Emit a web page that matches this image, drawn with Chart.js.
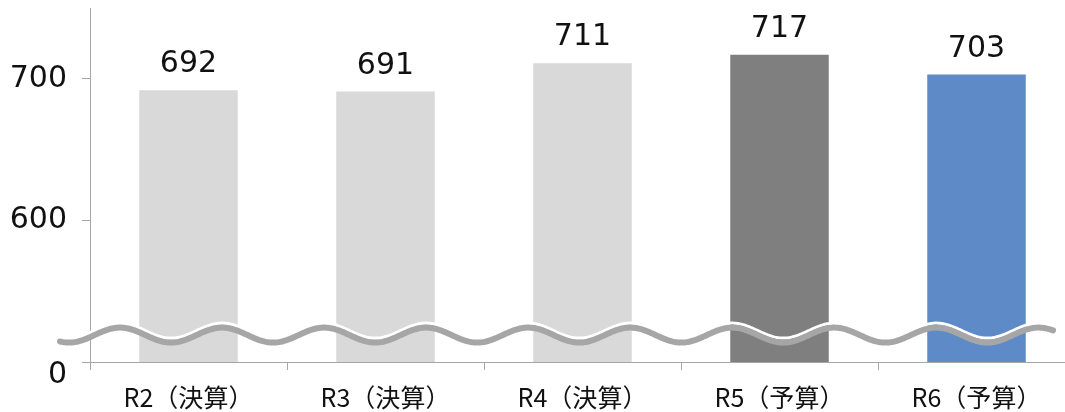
<!DOCTYPE html>
<html>
<head>
<meta charset="utf-8">
<script src="https://cdn.jsdelivr.net/npm/chart.js@4"></script>
<style>
  html, body { margin: 0; padding: 0; background: #fff; overflow: hidden; }
  #wrap { position: relative; width: 1077px; height: 412px; }
</style>
</head>
<body>
<div id="wrap"><canvas id="chart"></canvas></div>
<script>
// --- DATA ---
const categories = ['R2（決算）', 'R3（決算）', 'R4（決算）', 'R5（予算）', 'R6（予算）'];
const values = [692, 691, 711, 717, 703];
const barColors = ['#d9d9d9', '#d9d9d9', '#d9d9d9', '#7f7f7f', '#5e8ac8'];
// the axis is broken: bottom tick (500) is shown as 0
const yTicks = [500, 600, 700];
const yTickLabels = ['0', '600', '700'];

const AXIS_GRAY = '#a6a6a6';
const NUM_FONT = 'DejaVu Sans';
const JP_FONT = '"Noto Sans CJK JP", "Noto Sans", sans-serif';

// wavy break mark across the bars
const breakWave = {
    id: 'breakWave',
    afterDatasetsDraw(chart) {
        const { ctx, chartArea, scales } = chart;
        const cat = scales.x.getPixelForValue(1) - scales.x.getPixelForValue(0);
        const period = cat * 0.518;
        const amp = 7.5;
        const yc = scales.y.getPixelForValue(519);
        const x0 = chartArea.left - 30;
        const x1 = chartArea.right - 22;
        const xp = chartArea.left + 30;
        const path = (off) => {
            ctx.beginPath();
            for (let x = x0; x <= x1; x += 1) {
                const y = yc + off - amp * Math.cos(2 * Math.PI * (x - xp) / period);
                if (x === x0) ctx.moveTo(x, y); else ctx.lineTo(x, y);
            }
        };
        ctx.save();
        ctx.lineCap = 'round';
        ctx.strokeStyle = '#ffffff';
        ctx.lineWidth = 3;
        path(-4.5);
        ctx.stroke();
        ctx.strokeStyle = AXIS_GRAY;
        ctx.lineWidth = 6;
        path(0);
        ctx.stroke();
        ctx.restore();
    }
};

// value labels above the bars
const barLabels = {
    id: 'barLabels',
    afterDatasetsDraw(chart) {
        const { ctx } = chart;
        const meta = chart.getDatasetMeta(0);
        ctx.save();
        ctx.font = '30px ' + NUM_FONT;
        ctx.fillStyle = '#111';
        ctx.textAlign = 'center';
        ctx.textBaseline = 'alphabetic';
        meta.data.forEach((bar, i) => {
            ctx.fillText(String(values[i]), bar.x, bar.y - 18);
        });
        ctx.restore();
    }
};

new Chart(document.getElementById('chart'), {
    type: 'bar',
    data: {
        labels: categories,
        datasets: [{
            data: values,
            backgroundColor: barColors,
            borderWidth: 0,
            barPercentage: 0.5,
            categoryPercentage: 1
        }]
    },
    options: {
        responsive: true,
        maintainAspectRatio: false,
        animation: false,
        layout: { padding: { top: 8, right: 2, bottom: 0, left: 0 } },
        plugins: { legend: { display: false }, tooltip: { enabled: false } },
        scales: {
            x: {
                afterFit: (scale) => { scale.height = 50; },
                grid: { offset: true, drawOnChartArea: false, drawTicks: true, tickLength: 8, color: AXIS_GRAY },
                border: { color: AXIS_GRAY, width: 1 },
                ticks: { color: '#111', padding: 12, font: { family: JP_FONT, size: 25 } }
            },
            y: {
                min: 500,
                max: 750,
                afterBuildTicks: (scale) => { scale.ticks = yTicks.map(v => ({ value: v })); },
                afterFit: (scale) => { scale.width = 90; scale.paddingTop = 0; scale.paddingBottom = 0; },
                grid: { drawOnChartArea: false, drawTicks: true, tickLength: 8, color: AXIS_GRAY },
                border: { color: AXIS_GRAY, width: 1 },
                ticks: {
                    color: '#111',
                    padding: 15,
                    font: { family: NUM_FONT, size: 30, lineHeight: 0.87 },
                    callback: (v, i) => i === 0 ? ['', yTickLabels[i]] : yTickLabels[i]
                }
            }
        }
    },
    plugins: [breakWave, barLabels]
});
</script>
</body>
</html>
